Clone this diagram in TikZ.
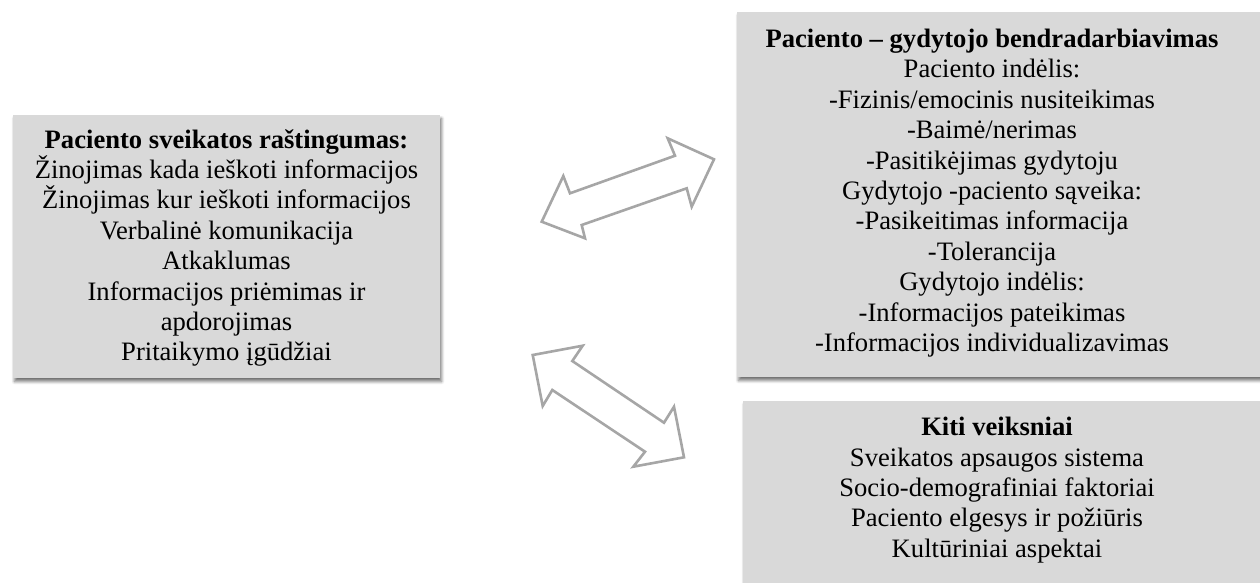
\documentclass[tikz,border=0pt]{standalone}
\usepackage{fontspec}
\setmainfont{Liberation Serif}
\usetikzlibrary{shadows.blur}
\definecolor{boxgrey}{HTML}{D9D9D9}
\definecolor{arrowgrey}{HTML}{A6A6A6}
\tikzset{
  panel/.style={fill=boxgrey, blur shadow={shadow xshift=1.5pt, shadow yshift=-3.5pt, shadow blur radius=3pt, shadow blur steps=6, shadow opacity=55}},
  txt/.style={align=center, font=\fontsize{26.6}{30.4}\selectfont, inner sep=0pt},
  blockarrow/.style={draw=arrowgrey, fill=white, line width=2.6pt, line join=miter}
}
\begin{document}
\begin{tikzpicture}[x=1pt,y=-1pt]
\useasboundingbox (0,0) rectangle (1260,582);
% boxes
\path[panel] (13,115) rectangle (440,378);
\path[panel] (737,12) rectangle (1275,377);
\path[panel] (743,401) rectangle (1275,600);
% texts
\node[txt] (lit) at (226.5,248) {\textbf{Paciento sveikatos raštingumas:}\\
Žinojimas kada ieškoti informacijos\\
Žinojimas kur ieškoti informacijos\\
Verbalinė komunikacija\\
Atkaklumas\\
Informacijos priėmimas ir\\
apdorojimas\\
Pritaikymo įgūdžiai};
\node[txt] (coop) at (992,193) {\textbf{Paciento – gydytojo bendradarbiavimas}\\
Paciento indėlis:\\
-Fizinis/emocinis nusiteikimas\\
-Baimė/nerimas\\
-Pasitikėjimas gydytoju\\
Gydytojo -paciento sąveika:\\
-Pasikeitimas informacija\\
-Tolerancija\\
Gydytojo indėlis:\\
-Informacijos pateikimas\\
-Informacijos individualizavimas};
\node[txt] (other) at (997,490) {\textbf{Kiti veiksniai}\\
Sveikatos apsaugos sistema\\
Socio-demografiniai faktoriai\\
Paciento elgesys ir požiūris\\
Kultūriniai aspektai};
% double block arrows
\draw[blockarrow] (541.7,221.7) -- (563.3,176) -- (570,193.3) -- (675,155.7) -- (667.7,138.3)
  -- (714,159.3) -- (691.7,206.7) -- (686.7,188.3) -- (581.7,225) -- (585,238.3) -- cycle;
\draw[blockarrow] (532.7,355) -- (582.7,345.7) -- (572.3,361) -- (664,422.7) -- (674,406.7)
  -- (684,457.3) -- (633.3,466.7) -- (645,451.7) -- (552.3,390) -- (542.7,406) -- cycle;
\end{tikzpicture}
\end{document}
